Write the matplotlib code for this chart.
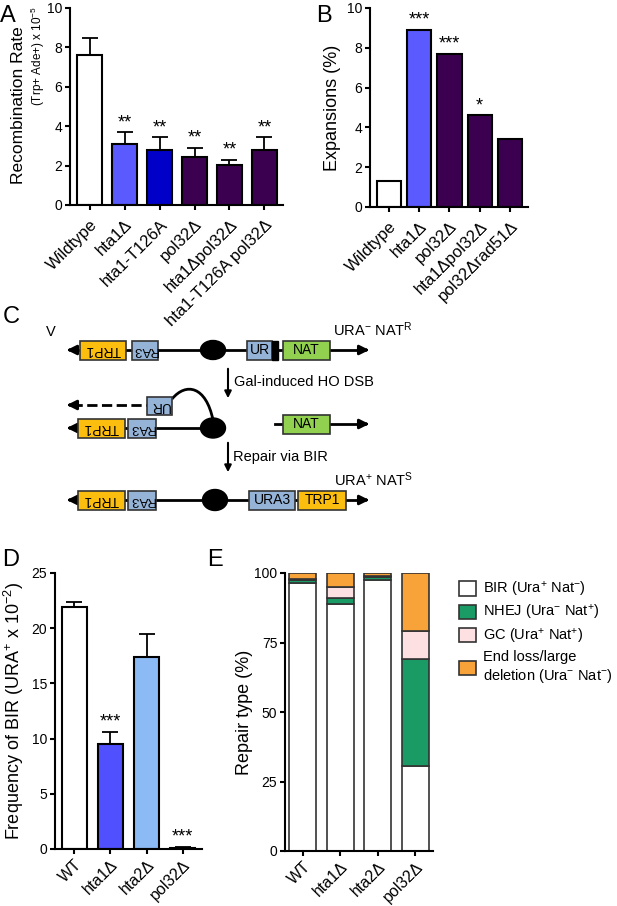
import matplotlib
matplotlib.use("Agg")
import matplotlib.pyplot as plt
import numpy as np
from matplotlib.patches import Rectangle, Ellipse, PathPatch
from matplotlib.path import Path

plt.rcParams['font.family'] = ['Liberation Sans', 'DejaVu Sans']
plt.rcParams['mathtext.fontset'] = 'custom'
plt.rcParams['mathtext.rm'] = 'Liberation Sans'
plt.rcParams['mathtext.it'] = 'Liberation Sans'
plt.rcParams['axes.linewidth'] = 1.5
plt.rcParams['xtick.major.width'] = 1.5
plt.rcParams['ytick.major.width'] = 1.5
plt.rcParams['xtick.major.size'] = 3.5
plt.rcParams['ytick.major.size'] = 3.5
plt.rcParams['ytick.major.pad'] = 2
plt.rcParams['xtick.major.pad'] = 5

# ---- data ----
# A
a_labels = ["Wildtype", "hta1Δ", "hta1-T126A", "pol32Δ", "hta1Δpol32Δ", "hta1-T126A pol32Δ"]
a_vals = [7.6, 3.1, 2.8, 2.45, 2.05, 2.8]
a_err = [0.9, 0.6, 0.65, 0.45, 0.25, 0.65]
a_stars = ["", "**", "**", "**", "**", "**"]
# B
b_labels = ["Wildtype", "hta1Δ", "pol32Δ", "hta1Δpol32Δ", "pol32Δrad51Δ"]
b_vals = [1.3, 8.9, 7.7, 4.6, 3.4]
b_stars = ["", "***", "***", "*", ""]
# D
d_labels = ["WT", "hta1Δ", "hta2Δ", "pol32Δ"]
d_vals = [21.9, 9.5, 17.4, 0.12]
d_err = [0.5, 1.1, 2.1, 0.08]
d_stars = ["", "***", "", "***"]
# E
e_labels = ["WT", "hta1Δ", "hta2Δ", "pol32Δ"]
e_bir = [96.5, 89.0, 97.5, 30.5]
e_nhej = [1.0, 2.0, 1.0, 38.5]
e_gc = [0.5, 4.0, 0.5, 10.0]
e_end = [2.0, 5.0, 1.0, 21.0]
e_names = ["BIR (Ura$^{+}$ Nat$^{-}$)", "NHEJ (Ura$^{-}$ Nat$^{+}$)",
           "GC (Ura$^{+}$ Nat$^{+}$)", "End loss/large\ndeletion (Ura$^{-}$ Nat$^{-}$)"]

WHITE = "white"
LIGHTV = "#5a5aff"
BLUE = "#0000c8"
PURPLE = "#3c0050"
LIGHTB = "#8cbaf5"
GREEN = "#1a9a64"
PINK = "#fde0e2"
ORANGE = "#f8a23a"
GOLD = "#fbbd0e"
SKY = "#95b3d7"
LIME = "#92d050"

a_cols = [WHITE, LIGHTV, BLUE, PURPLE, PURPLE, PURPLE]
b_cols = [WHITE, LIGHTV, PURPLE, PURPLE, PURPLE]
d_cols = [WHITE, "#5050ff", LIGHTB, PURPLE]

W, H = 617, 906
fig = plt.figure(figsize=(W / 100, H / 100), dpi=100)


def px_axes(l, r, t, b):
    return fig.add_axes([l / W, 1 - b / H, (r - l) / W, (b - t) / H])


def style(ax, xsize=12, xpad=5):
    ax.spines['top'].set_visible(False)
    ax.spines['right'].set_visible(False)
    ax.tick_params(axis='y', labelsize=10, direction='out')
    ax.tick_params(axis='x', labelsize=xsize, pad=xpad, direction='out')


# ---- diagram / labels layer ----
bg = fig.add_axes([0, 0, 1, 1])
bg.set_xlim(0, W)
bg.set_ylim(H, 0)
bg.axis('off')

for lab, x, y in [("A", 0, 16), ("B", 316, 16), ("C", 3, 317), ("D", 2, 560), ("E", 207, 560)]:
    bg.text(x, y, lab, fontsize=17, va='center', ha='left')


def box(x0, x1, yc, col, txt, flip=False, h=19, fs=10):
    bg.add_patch(Rectangle((x0, yc - h / 2), x1 - x0, h, facecolor=col, edgecolor='#333333', lw=1.2, zorder=3))
    bg.text((x0 + x1) / 2, yc, txt, fontsize=fs, ha='center', va='center',
            rotation=180 if flip else 0, rotation_mode='anchor', zorder=4)


def arrow_line(x0, x1, yc, ls='-'):
    bg.plot([x0, x1 - 8], [yc, yc], color='k', lw=2, ls=ls, zorder=1)
    bg.annotate('', xy=(x1, yc), xytext=(x1 - 10, yc),
                arrowprops=dict(arrowstyle='-|>', color='k', lw=2, mutation_scale=14), zorder=2)


def left_arrow(x0, x1, yc, ls='-'):
    bg.plot([x0 + 8, x1], [yc, yc], color='k', lw=2, ls=ls, zorder=1)
    bg.annotate('', xy=(x0, yc), xytext=(x0 + 10, yc),
                arrowprops=dict(arrowstyle='-|>', color='k', lw=2, mutation_scale=14), zorder=2)


# line 1
y1 = 350
left_arrow(64, 213, y1)
arrow_line(213, 372, y1)
box(80, 126, y1, GOLD, "TRP1", flip=True)
box(132, 158, y1, SKY, "RA3", flip=True, fs=9.5)
bg.add_patch(Ellipse((213, y1), 25, 19, color='k', zorder=3))
box(247, 272, y1, SKY, "UR")
bg.add_patch(Rectangle((272, y1 - 9.5), 6, 19, color='k', zorder=3))
box(283, 330, y1, LIME, "NAT")
bg.text(46, 332, "V", fontsize=10.5, ha='left', va='center')
bg.text(333, 330, "URA$^{-}$ NAT$^{R}$", fontsize=10.5, ha='left', va='center')

# arrow 1
bg.annotate('', xy=(228, 401), xytext=(228, 366),
            arrowprops=dict(arrowstyle='-|>', color='k', lw=1.5, mutation_scale=10))
bg.text(234, 382, "Gal-induced HO DSB", fontsize=10.5, ha='left', va='center')

# line 2 (resected end)
y2 = 405
left_arrow(64, 147, y2, ls='--')
box(147, 172, y2 + 1, SKY, "UR", flip=True, h=18)
curve = Path([(172, 399), (186, 382), (206, 386), (213, 420)],
             [Path.MOVETO, Path.CURVE4, Path.CURVE4, Path.CURVE4])
bg.add_patch(PathPatch(curve, facecolor='none', edgecolor='k', lw=2, zorder=2))

# line 3
y3 = 428
left_arrow(64, 213, y3)
box(78, 125, y3, GOLD, "TRP1", flip=True)
box(128, 156, y3, SKY, "RA3", flip=True, fs=9.5)
bg.add_patch(Ellipse((213, y3), 25, 20, color='k', zorder=3))
arrow_line(275, 372, y3 - 4)
box(283, 330, y3 - 4, LIME, "NAT")

# arrow 2
bg.annotate('', xy=(228, 475), xytext=(228, 440),
            arrowprops=dict(arrowstyle='-|>', color='k', lw=1.5, mutation_scale=10))
bg.text(233, 457, "Repair via BIR", fontsize=10.5, ha='left', va='center')
bg.text(334, 480, "URA$^{+}$ NAT$^{S}$", fontsize=10.5, ha='left', va='center')

# line 4
y4 = 500
left_arrow(64, 215, y4)
arrow_line(215, 372, y4)
box(78, 125, y4, GOLD, "TRP1", flip=True)
box(128, 156, y4, SKY, "RA3", flip=True, fs=9.5)
bg.add_patch(Ellipse((215, y4), 25, 21, color='k', zorder=3))
box(249, 295, y4, SKY, "URA3")
box(298, 346, y4, GOLD, "TRP1")

# ---- panel A ----
axA = px_axes(70, 283, 8, 205)
xa = np.arange(len(a_vals))
axA.bar(xa, a_vals, width=0.72, color=a_cols, edgecolor='k', lw=1.5, zorder=2)
axA.errorbar(xa, a_vals, yerr=[np.zeros(len(a_err)), a_err], fmt='none', ecolor='k',
             elinewidth=1.3, capsize=6, capthick=1.3, zorder=1)
for x, v, e, s in zip(xa, a_vals, a_err, a_stars):
    axA.text(x, v + e + 0.05, s, ha='center', va='bottom', fontsize=13)
axA.set_xlim(-0.56, 5.53)
axA.set_ylim(0, 10)
axA.set_yticks([0, 2, 4, 6, 8, 10])
axA.set_xticks(xa)
axA.set_xticklabels(a_labels, rotation=45, ha='right', rotation_mode='anchor')
style(axA)
fig.text(19 / W, 1 - 105 / H, "Recombination Rate", rotation=90, fontsize=12.5, ha='center', va='center')
fig.text(38 / W, 1 - 6 / H, "(Trp+ Ade+) x 10$^{-5}$", rotation=90, fontsize=8.5, ha='center', va='top')

# ---- panel B ----
axB = px_axes(370, 528, 8, 207)
xb = np.arange(len(b_vals))
axB.bar(xb, b_vals, width=0.8, color=b_cols, edgecolor='k', lw=1.5)
for x, v, s in zip(xb, b_vals, b_stars):
    axB.text(x, v + 0.05, s, ha='center', va='bottom', fontsize=13)
axB.set_xlim(-0.63, 4.6)
axB.set_ylim(0, 10)
axB.set_yticks([0, 2, 4, 6, 8, 10])
axB.set_xticks(xb)
axB.set_xticklabels(b_labels, rotation=45, ha='right', rotation_mode='anchor')
style(axB)
axB.set_ylabel("Expansions (%)", fontsize=13, labelpad=4)

# ---- panel D ----
axD = px_axes(55, 202, 573, 849)
xd = np.arange(len(d_vals))
axD.bar(xd, d_vals, width=0.7, color=d_cols, edgecolor='k', lw=1.5, zorder=2)
axD.errorbar(xd, d_vals, yerr=[np.zeros(len(d_err)), d_err], fmt='none', ecolor='k',
             elinewidth=1.3, capsize=6, capthick=1.3, zorder=1)
for x, v, e, s in zip(xd, d_vals, d_err, d_stars):
    axD.text(x, v + e + 0.1, s, ha='center', va='bottom', fontsize=13)
axD.set_xlim(-0.54, 3.54)
axD.set_ylim(0, 25)
axD.set_yticks([0, 5, 10, 15, 20, 25])
axD.set_xticks(xd)
axD.set_xticklabels(d_labels, rotation=45, ha='right', rotation_mode='anchor')
style(axD, xsize=11.5, xpad=2.5)
axD.set_ylabel("Frequency of BIR (URA$^{+}$ x 10$^{-2}$)", fontsize=13, labelpad=4)

# ---- panel E ----
axE = px_axes(285, 433, 573, 851)
xe = np.arange(len(e_bir))
bottom = np.zeros(len(xe))
handles = []
for vals, col in zip([e_bir, e_nhej, e_gc, e_end], [WHITE, GREEN, PINK, ORANGE]):
    h = axE.bar(xe, vals, bottom=bottom, width=0.72, color=col, edgecolor='#333333', lw=1.2)
    handles.append(h)
    bottom = bottom + np.array(vals)
axE.set_xlim(-0.47, 3.48)
axE.set_ylim(0, 100)
axE.set_yticks([0, 25, 50, 75, 100])
axE.set_xticks(xe)
axE.set_xticklabels(e_labels, rotation=45, ha='right', rotation_mode='anchor')
style(axE, xsize=11.5, xpad=2.5)
axE.set_ylabel("Repair type (%)", fontsize=13, labelpad=1)
fig.legend(handles, e_names, loc='upper left', bbox_to_anchor=(453 / W, 1 - 574 / H),
           frameon=False, fontsize=10.5, handlelength=1.15, handleheight=1.15,
           handletextpad=0.5, labelspacing=0.3, borderaxespad=0)

fig.savefig("out.png", dpi=100)
